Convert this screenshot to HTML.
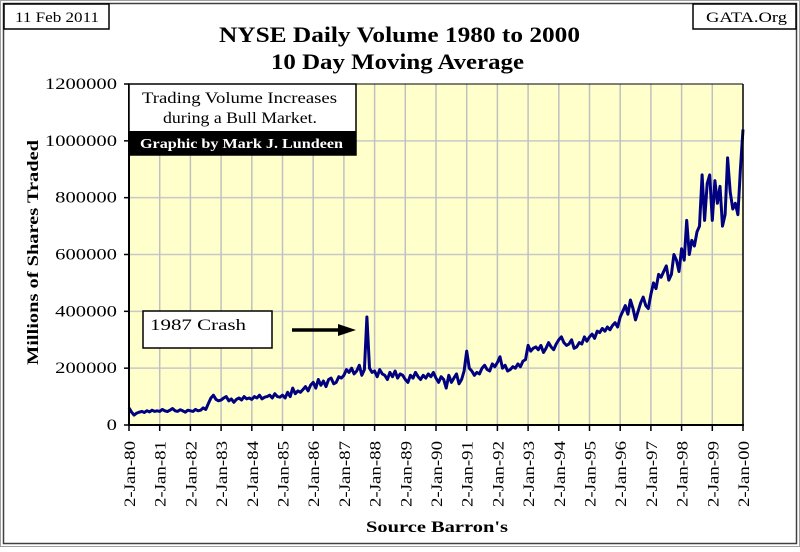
<!DOCTYPE html>
<html><head><meta charset="utf-8"><style>
body{margin:0;background:#fff;}
svg text{font-family:"Liberation Serif",serif;}
</style></head><body>
<svg id="c" width="800" height="547" xmlns="http://www.w3.org/2000/svg">
<rect x="0.5" y="0.5" width="799" height="546" fill="#fff" stroke="#a0a0a0" stroke-width="1"/>
<rect x="3.5" y="3.5" width="793" height="540" fill="none" stroke="#404040" stroke-width="1.5"/>
<rect x="4" y="4" width="105" height="25" fill="#fff" stroke="#000" stroke-width="1.5"/>
<text x="15" y="22" font-size="15" textLength="84" lengthAdjust="spacingAndGlyphs">11 Feb 2011</text>
<rect x="693" y="4" width="103" height="25" fill="#fff" stroke="#000" stroke-width="1.5"/>
<text x="706" y="22" font-size="15" textLength="81" lengthAdjust="spacingAndGlyphs">GATA.Org</text>
<text x="219" y="42" font-size="22" font-weight="bold" textLength="361" lengthAdjust="spacingAndGlyphs">NYSE Daily Volume 1980 to 2000</text>
<text x="271" y="69" font-size="22" font-weight="bold" textLength="253" lengthAdjust="spacingAndGlyphs">10 Day Moving Average</text>
<rect x="129" y="84" width="614" height="341" fill="#ffffcc"/>
<g id="grid"></g>
<g id="series"></g>
<line x1="129" y1="84" x2="129" y2="426" stroke="#000" stroke-width="2"/>
<line x1="128" y1="425" x2="744" y2="425" stroke="#000" stroke-width="2"/>
<line x1="743" y1="84" x2="743" y2="425" stroke="#000" stroke-width="1.5"/>
<line x1="129" y1="84" x2="743" y2="84" stroke="#000" stroke-width="1"/>
<g id="ticks"></g>
<rect x="129" y="84" width="227" height="71" fill="#fff" stroke="#000" stroke-width="1.5"/>
<text x="142" y="103" font-size="16" textLength="195" lengthAdjust="spacingAndGlyphs">Trading Volume Increases</text>
<text x="163" y="123" font-size="16" textLength="154" lengthAdjust="spacingAndGlyphs">during a Bull Market.</text>
<rect x="129" y="131" width="227" height="24" fill="#000"/>
<text x="140" y="148" font-size="14" font-weight="bold" fill="#fff" textLength="203" lengthAdjust="spacingAndGlyphs">Graphic by Mark J. Lundeen</text>
<rect x="143" y="311" width="129" height="37" fill="#fff" stroke="#000" stroke-width="1.5"/>
<text x="150" y="330" font-size="16" textLength="96" lengthAdjust="spacingAndGlyphs">1987 Crash</text>
<line x1="292" y1="330" x2="340" y2="330" stroke="#000" stroke-width="3.5"/>
<polygon points="338,324 356,330 338,336" fill="#000"/>
<text transform="translate(38,365) rotate(-90)" font-size="16" font-weight="bold" textLength="225" lengthAdjust="spacingAndGlyphs">Millions of Shares Traded</text>
<text x="366" y="532" font-size="16" font-weight="bold" textLength="142" lengthAdjust="spacingAndGlyphs">Source Barron's</text>
</svg>
<script>
const yTicks=[0,200000,400000,600000,800000,1000000,1200000];
const xLabels=["2-Jan-80","2-Jan-81","2-Jan-82","2-Jan-83","2-Jan-84","2-Jan-85","2-Jan-86","2-Jan-87","2-Jan-88","2-Jan-89","2-Jan-90","2-Jan-91","2-Jan-92","2-Jan-93","2-Jan-94","2-Jan-95","2-Jan-96","2-Jan-97","2-Jan-98","2-Jan-99","2-Jan-00"];
const volume=[
60000,45000,35000,42000,45000,48000,44000,50000,46000,52000,48000,50000,
48000,55000,50000,47000,52000,58000,50000,48000,54000,50000,45000,52000,
50000,48000,55000,50000,52000,60000,55000,75000,95000,105000,90000,85000,
88000,95000,100000,85000,92000,80000,90000,95000,88000,100000,92000,95000,
90000,100000,95000,105000,92000,98000,100000,105000,95000,110000,100000,98000,
105000,95000,115000,100000,130000,110000,120000,115000,125000,135000,120000,140000,
150000,130000,160000,140000,155000,135000,160000,165000,145000,150000,170000,165000,
175000,195000,185000,200000,180000,190000,210000,175000,195000,380000,200000,185000,
190000,170000,195000,180000,175000,160000,185000,170000,190000,165000,180000,175000,
160000,150000,175000,165000,185000,170000,160000,175000,165000,180000,170000,185000,
165000,150000,170000,160000,130000,175000,150000,165000,180000,145000,160000,190000,
260000,200000,190000,175000,185000,180000,200000,210000,195000,190000,215000,205000,
220000,240000,200000,210000,190000,195000,205000,200000,215000,205000,225000,230000,
280000,260000,270000,275000,265000,280000,255000,270000,290000,275000,265000,285000,
300000,310000,290000,280000,285000,300000,270000,275000,290000,285000,310000,295000,
310000,320000,305000,330000,325000,340000,330000,345000,335000,350000,360000,345000,
380000,400000,420000,390000,440000,410000,370000,400000,430000,450000,420000,410000,
460000,500000,480000,530000,520000,540000,560000,510000,530000,600000,580000,540000,
620000,580000,720000,600000,650000,630000,680000,700000,880000,720000,850000,880000,
720000,860000,780000,840000,700000,740000,940000,820000,760000,780000,740000,900000,
1040000];
const X0=129,X1=743,Y0=425,Y1=84,YMAX=1200000,NY=xLabels.length-1;
const xs=t=>X0+(t/NY)*(X1-X0);
const ys=v=>Y0-(v/YMAX)*(Y0-Y1);
const NS="http://www.w3.org/2000/svg";
const g=document.getElementById('grid'),tk=document.getElementById('ticks'),sg=document.getElementById('series');
function mk(tag,a,p){const e=document.createElementNS(NS,tag);for(const k in a)e.setAttribute(k,a[k]);p.appendChild(e);return e;}
yTicks.forEach(v=>{
  if(v>0&&v<YMAX){const l=mk('line',{x1:X0,x2:X1,y1:ys(v),y2:ys(v),stroke:'#c8c8c8','stroke-width':1.5},g);
  
  }
  mk('line',{x1:X0-5,x2:X0,y1:ys(v),y2:ys(v),stroke:'#000','stroke-width':1.5},tk);
  const s=String(v);
  const tx=mk('text',{x:117-s.length*10.3,y:ys(v)+5,'font-size':16,textLength:s.length*10.3,lengthAdjust:'spacingAndGlyphs'},tk);
  tx.textContent=s;
  
  
});
xLabels.forEach((lab,i)=>{
  const x=xs(i);
  if(i>0&&i<NY){const l=mk('line',{x1:x,x2:x,y1:Y1,y2:Y0,stroke:'#c0c0c0','stroke-width':1.5},g);
  
  }
  mk('line',{x1:x,x2:x,y1:Y0,y2:Y0+6,stroke:'#000','stroke-width':1.5},tk);
  const tx=mk('text',{transform:`translate(${x+6},${Y0+82}) rotate(-90)`,'font-size':16,textLength:66,lengthAdjust:'spacingAndGlyphs'},tk);
  tx.textContent=lab;
  
  
});
const pts=volume.map((v,i)=>xs(i/12).toFixed(1)+','+ys(v).toFixed(1)).join(' ');
const pl=mk('polyline',{points:pts,fill:'none',stroke:'#000080','stroke-width':3,'stroke-linejoin':'round'},sg);


</script>
</body></html>
